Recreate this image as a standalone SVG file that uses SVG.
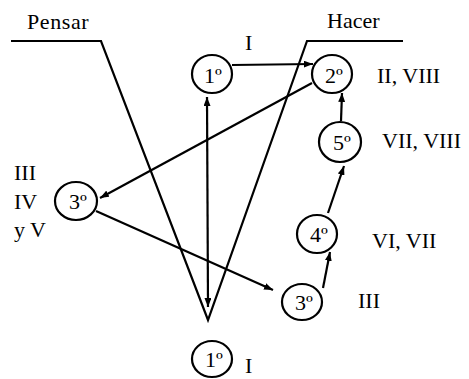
<svg xmlns="http://www.w3.org/2000/svg" width="469" height="379" viewBox="0 0 469 379">
<style>
text{font-family:"Liberation Serif","Times New Roman",serif;font-size:22px;fill:#000}
.c{text-anchor:middle}
circle,ellipse{fill:#fff;stroke:#000;stroke-width:2.2}
.ln{fill:none;stroke:#000;stroke-width:2.2}
</style>
<defs>
<marker id="ah" markerUnits="userSpaceOnUse" markerWidth="10" markerHeight="7" refX="9" refY="3.5" orient="auto-start-reverse">
<path d="M0,0 L9,3.5 L0,7 z" fill="#000"/>
</marker>
</defs>
<g id="frame">
<polyline class="ln" points="11,41 101,41 208,320 307,41 403,41"/>
<text x="27" y="29" letter-spacing="0.6">Pensar</text>
<text x="327" y="28">Hacer</text>
</g>
<g id="connectors">
<line class="ln" x1="232" y1="65" x2="313" y2="64" marker-end="url(#ah)"/>
<line class="ln" x1="312" y1="83" x2="100" y2="198" marker-end="url(#ah)"/>
<line class="ln" x1="96" y1="211" x2="273" y2="290" marker-end="url(#ah)"/>
<line class="ln" x1="323" y1="288" x2="330" y2="252" marker-end="url(#ah)"/>
<line class="ln" x1="328" y1="213" x2="344" y2="166" marker-end="url(#ah)"/>
<line class="ln" x1="341" y1="121" x2="342" y2="93" marker-end="url(#ah)"/>
<line class="ln" x1="208" y1="307" x2="207" y2="97" marker-start="url(#ah)" marker-end="url(#ah)"/>
</g>
<g id="n1top">
<ellipse cx="212" cy="74" rx="20" ry="19"/>
<text class="c" x="213" y="83">1º</text>
<text x="245" y="50">I</text>
</g>
<g id="n2">
<ellipse cx="332" cy="74" rx="20" ry="19"/>
<text class="c" x="334" y="83">2º</text>
<text x="377" y="83">II, VIII</text>
</g>
<g id="n5">
<ellipse cx="340" cy="142" rx="21" ry="20"/>
<text class="c" x="342" y="150">5º</text>
<text x="382" y="148">VII, VIII</text>
</g>
<g id="n4">
<ellipse cx="317" cy="234" rx="20" ry="19"/>
<text class="c" x="319" y="242">4º</text>
<text x="372" y="248">VI, VII</text>
</g>
<g id="n3right">
<ellipse cx="302" cy="302" rx="20" ry="18"/>
<text class="c" x="304" y="310">3º</text>
<text x="358" y="308">III</text>
</g>
<g id="n3left">
<ellipse cx="76" cy="201" rx="21" ry="19"/>
<text class="c" x="78" y="209">3º</text>
<text x="14" y="180">III</text>
<text x="14" y="209">IV</text>
<text x="14" y="237">y V</text>
</g>
<g id="n1bottom">
<ellipse cx="212" cy="359" rx="20" ry="18"/>
<text class="c" x="214" y="367">1º</text>
<text x="245" y="373">I</text>
</g>
</svg>
